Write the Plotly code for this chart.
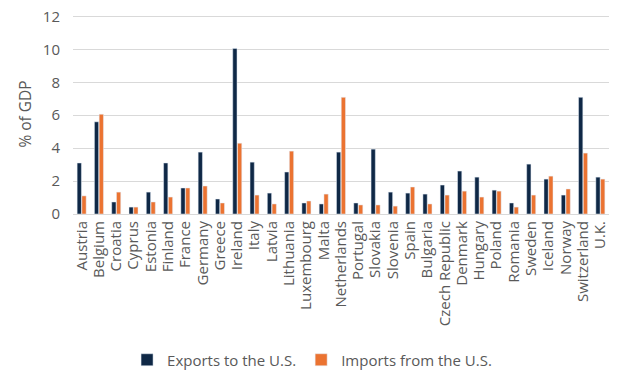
import plotly.graph_objects as go

countries = ["Austria", "Belgium", "Croatia", "Cyprus", "Estonia", "Finland", "France",
             "Germany", "Greece", "Ireland", "Italy", "Latvia", "Lithuania", "Luxembourg",
             "Malta", "Netherlands", "Portugal", "Slovakia", "Slovenia", "Spain", "Bulgaria",
             "Czech Republic", "Denmark", "Hungary", "Poland", "Romania", "Sweden", "Iceland",
             "Norway", "Switzerland", "U.K."]
exports = [3.1, 5.6, 0.73, 0.42, 1.33, 3.1, 1.58, 3.76, 0.91, 10.06, 3.15, 1.27, 2.55, 0.67,
           0.61, 3.76, 0.67, 3.94, 1.33, 1.27, 1.21, 1.76, 2.61, 2.24, 1.45, 0.67, 3.03, 2.12,
           1.15, 7.09, 2.24]
imports = [1.1, 6.06, 1.33, 0.42, 0.73, 1.03, 1.58, 1.70, 0.67, 4.30, 1.15, 0.61, 3.82, 0.79,
           1.21, 7.09, 0.55, 0.55, 0.48, 1.64, 0.61, 1.15, 1.39, 1.03, 1.39, 0.42, 1.15, 2.30,
           1.52, 3.70, 2.12]
yticks = [0, 2, 4, 6, 8, 10, 12]

navy = "#0F2846"
orange = "#EB7331"
grey = "#595959"
FONT = "Open Sans"

fig = go.Figure()
fig.add_trace(go.Bar(x=countries, y=exports, name="Exports to the U.S.", marker_color=navy))
fig.add_trace(go.Bar(x=countries, y=imports, name="Imports from the U.S.", marker_color=orange))

fig.update_layout(
    width=624, height=382,
    margin=dict(l=73, r=15, t=13.5, b=168, autoexpand=False),
    paper_bgcolor="white", plot_bgcolor="white",
    barmode="group", bargap=0.45, bargroupgap=0.1,
    font=dict(family=FONT, color=grey, size=14),
    showlegend=True,
    legend=dict(orientation="h", x=0.446, xanchor="center", y=-0.73, yanchor="middle",
                font=dict(size=15, color=grey), traceorder="normal"),
    xaxis=dict(tickangle=-90, tickfont=dict(size=15, color=grey), showgrid=False,
               tickmode="array", tickvals=countries, ticktext=countries,
               showline=True, linecolor="#D9D9D9", linewidth=1, ticks="", automargin=False),
    yaxis=dict(range=[0, 12.15], tickmode="array", tickvals=yticks, ticklabeloverflow="allow",
               showgrid=True, gridcolor="#D9D9D9", gridwidth=1, ticklabelstandoff=12,
               zeroline=False, tickfont=dict(size=15, color=grey), automargin=False,
               title=dict(text="% of GDP", font=dict(size=15.5, color=grey), standoff=7),
               ticks=""),
)

fig.write_html("out.html", config={"displayModeBar": False},
               post_script="document.body.style.margin='0px';")
